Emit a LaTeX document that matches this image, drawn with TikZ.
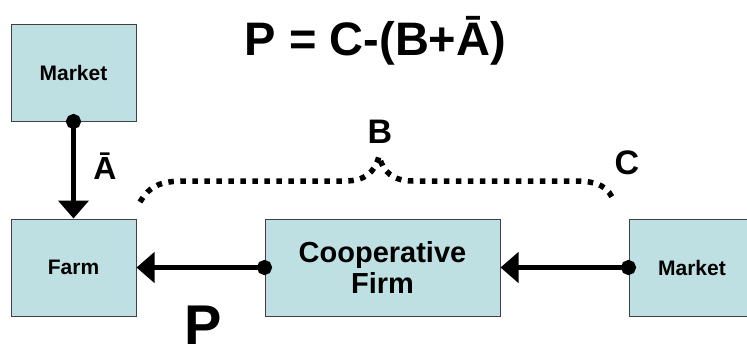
\documentclass[tikz,border=0pt]{standalone}
\usepackage{fontspec}
\setmainfont{Liberation Sans}
\usetikzlibrary{arrows.meta}
\definecolor{boxfill}{RGB}{191,224,226}
\definecolor{boxline}{RGB}{64,64,64}
\begin{document}
\begin{tikzpicture}[x=1pt,y=-1pt,
  box/.style={draw=boxline, line width=1pt, fill=boxfill, inner sep=0pt,
    minimum height=97pt, font=\bfseries\fontsize{21}{25}\selectfont, align=center},
  flow/.style={line width=4.5pt,
    {Circle[length=15pt]}-{Triangle[length=18pt,width=30pt]}, shorten <=-7.5pt},
  lbl/.style={inner sep=0pt, anchor=base, font=\bfseries\fontsize{#1}{#1}\selectfont},
  brace/.style={line width=5.5pt, dash pattern=on 5.5pt off 6.5pt}
]
\useasboundingbox (0,0) rectangle (747,343);
% boxes
\node[box, minimum width=125pt] (mkt1) at (73.5,72.5) {Market};
\node[box, minimum width=125pt] (farm) at (73.5,267.5) {Farm};
\node[box, minimum width=235pt, font=\bfseries\fontsize{29}{31}\selectfont] (coop) at (382.5,267.5) {Cooperative\\Firm};
\node[box, minimum width=126pt] (mkt2) at (692,267.5) {Market};
% connectors
\draw[flow] (mkt1.south) -- (farm.north);
\draw[flow] (coop.west) -- (farm.east);
\draw[flow] (mkt2.west) -- (coop.east);
% labels
\node[lbl=47] (title) at (375.5,55) {P = C-(B+Ā)};
\node[lbl=32] (labA) at (105,179) {Ā};
\node[lbl=34] (labB) at (380,143) {B};
\node[lbl=34] (labC) at (627,174) {C};
\node[lbl=56] (labP) at (203.5,344) {P};
% dotted brace
\coordinate (bl) at (140,202);
\coordinate (bpeak) at (379,156);
\coordinate (br) at (614,202);
\draw[brace] (bl) .. controls (150,185) and (162,181) .. (185,181) -- (345,181)
  .. controls (365,181) and (375,172) .. (bpeak)
  .. controls (383,172) and (393,181) .. (413,181) -- (575,181)
  .. controls (598,181) and (609,187) .. (br);
\end{tikzpicture}
\end{document}
